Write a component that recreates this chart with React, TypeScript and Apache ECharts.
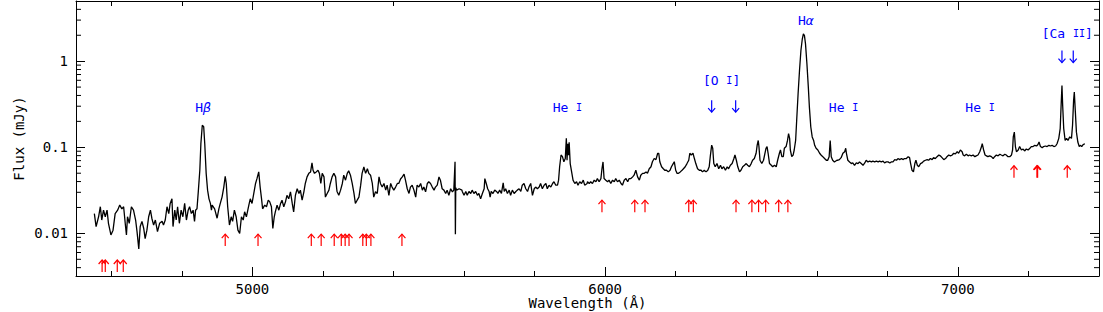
import { useEffect, useRef } from 'react';
import * as echarts from 'echarts';

// Spectrum: [wavelength (Å), flux (mJy)]
const spectrum: [number, number][] = [
  [4552,0.0170],[4557,0.0120],[4564,0.0156],[4569,0.0204],[4573,0.0143],[4578,0.0186],[4583,0.0156],[4588,0.0186],[4592,0.0131],[4599,0.0096],[4605,0.0109],[4611,0.0170],[4618,0.0186],[4624,0.0213],[4630,0.0193],[4635,0.0204],[4640,0.0125],[4643,0.0096],[4646,0.0156],[4651,0.0131],[4657,0.0204],[4663,0.0186],[4669,0.0143],[4673,0.0105],[4678,0.0066],[4682,0.0120],[4687,0.0138],[4692,0.0114],[4696,0.0087],[4701,0.0109],[4706,0.0156],[4711,0.0186],[4715,0.0150],[4720,0.0125],[4725,0.0143],[4731,0.0105],[4737,0.0131],[4744,0.0138],[4748,0.0125],[4753,0.0143],[4758,0.0204],[4763,0.0170],[4767,0.0223],[4772,0.0252],[4775,0.0120],[4780,0.0186],[4784,0.0143],[4788,0.0204],[4793,0.0131],[4798,0.0186],[4803,0.0156],[4808,0.0223],[4813,0.0143],[4818,0.0186],[4822,0.0204],[4827,0.0170],[4832,0.0186],[4836,0.0138],[4839,0.0186],[4843,0.0193],[4847,0.0318],[4851,0.0541],[4854,0.110],[4858,0.180],[4862,0.173],[4865,0.110],[4869,0.0498],[4873,0.0318],[4877,0.0252],[4881,0.0223],[4884,0.0186],
  [4886,0.0213],[4893,0.0193],[4900,0.0150],[4905,0.0193],[4909,0.0223],[4914,0.0264],[4919,0.0345],[4923,0.0461],[4926,0.0380],[4930,0.0204],[4935,0.0125],[4940,0.0156],[4944,0.0138],[4949,0.0186],[4954,0.0156],[4959,0.0109],[4964,0.0100],[4969,0.0156],[4974,0.0143],[4978,0.0178],[4983,0.0156],[4990,0.0213],[4994,0.0252],[4999,0.0223],[5004,0.0291],[5009,0.0380],[5013,0.0432],[5018,0.0518],[5022,0.0345],[5026,0.0252],[5029,0.0193],[5035,0.0213],[5040,0.0204],[5045,0.0243],[5049,0.0234],[5054,0.0204],[5058,0.0114],[5062,0.0156],[5065,0.0178],[5070,0.0213],[5075,0.0186],[5080,0.0223],[5084,0.0243],[5089,0.0204],[5094,0.0234],[5098,0.0277],[5103,0.0252],[5108,0.0304],[5113,0.0223],[5117,0.0178],[5122,0.0277],[5127,0.0330],[5132,0.0291],[5136,0.0318],[5141,0.0243],[5146,0.0304],[5150,0.0380],[5155,0.0453],[5160,0.0498],[5165,0.0518],[5169,0.0658],[5172,0.0541],[5176,0.0498],[5181,0.0518],[5186,0.0541],[5190,0.0498],[5194,0.0380],[5198,0.0498],[5203,0.0453],[5207,0.0264],[5212,0.0291],[5217,0.0318],[5221,0.0380],[5226,0.0453],[5231,0.0498],[5236,0.0453],[5239,0.0330],
  [5240,0.0307],[5245,0.0277],[5250,0.0318],[5255,0.0380],[5259,0.0474],[5264,0.0415],[5269,0.0498],[5273,0.0533],[5278,0.0474],[5283,0.0380],[5288,0.0291],[5292,0.0223],[5297,0.0243],[5302,0.0264],[5307,0.0363],[5311,0.0498],[5316,0.0590],[5321,0.0498],[5326,0.0564],[5330,0.0498],[5335,0.0474],[5340,0.0380],[5344,0.0264],[5349,0.0304],[5354,0.0291],[5359,0.0453],[5363,0.0380],[5368,0.0345],[5373,0.0380],[5378,0.0318],[5382,0.0363],[5387,0.0277],[5392,0.0380],[5396,0.0345],[5401,0.0318],[5406,0.0345],[5411,0.0380],[5415,0.0380],[5420,0.0428],[5425,0.0453],[5430,0.0488],[5434,0.0415],[5439,0.0330],[5444,0.0291],[5448,0.0345],[5453,0.0363],[5458,0.0318],[5463,0.0264],[5467,0.0363],[5472,0.0345],[5477,0.0380],[5482,0.0318],[5486,0.0345],[5491,0.0304],[5496,0.0380],[5500,0.0398],[5505,0.0380],[5510,0.0345],[5515,0.0318],[5519,0.0345],[5524,0.0363],[5529,0.0453],[5533,0.0415],[5538,0.0330],[5543,0.0318],[5548,0.0291],[5552,0.0318],[5557,0.0277],[5562,0.0330],[5567,0.0304],[5571,0.0318],[5574.5,0.068],[5575.5,0.0098],[5576.5,0.034],[5579,0.0318],[5586,0.0330],[5594,0.0318],
  [5595,0.0307],[5600,0.0277],[5605,0.0307],[5609,0.0277],[5614,0.0307],[5619,0.0291],[5623,0.0318],[5628,0.0291],[5633,0.0307],[5638,0.0277],[5642,0.0291],[5647,0.0252],[5652,0.0291],[5657,0.0330],[5659,0.0433],[5663,0.0380],[5667,0.0330],[5671,0.0307],[5674,0.0264],[5677,0.0307],[5682,0.0291],[5687,0.0318],[5692,0.0307],[5696,0.0291],[5701,0.0318],[5706,0.0291],[5711,0.0386],[5714,0.0307],[5718,0.0330],[5723,0.0291],[5728,0.0318],[5732,0.0277],[5737,0.0318],[5742,0.0291],[5747,0.0307],[5751,0.0318],[5756,0.0330],[5761,0.0307],[5765,0.0363],[5770,0.0380],[5775,0.0330],[5780,0.0307],[5784,0.0345],[5789,0.0380],[5794,0.0277],[5799,0.0330],[5803,0.0345],[5808,0.0330],[5813,0.0345],[5817,0.0380],[5822,0.0330],[5827,0.0363],[5832,0.0380],[5836,0.0330],[5841,0.0363],[5846,0.0345],[5851,0.0380],[5855,0.0398],[5860,0.0363],[5865,0.0363],[5868,0.0415],[5871,0.0594],[5875,0.0814],[5879,0.0778],[5883,0.0680],[5887,0.0740],[5890,0.127],[5892,0.0707],[5894,0.110],[5896,0.081],[5898,0.114],[5901,0.0647],[5905,0.0518],[5909,0.0415],[5914,0.0380],[5919,0.0398],[5923,0.0363],[5928,0.0398],[5933,0.0380],[5938,0.0415],[5942,0.0363],[5949,0.0380],
  [5950,0.0398],[5955,0.0380],[5959,0.0398],[5964,0.0380],[5969,0.0415],[5974,0.0398],[5978,0.0433],[5983,0.0398],[5988,0.0433],[5991,0.0563],[5994,0.0676],[5997,0.0433],[6002,0.0415],[6007,0.0398],[6011,0.0415],[6016,0.0380],[6021,0.0415],[6026,0.0398],[6030,0.0433],[6035,0.0398],[6040,0.0415],[6045,0.0380],[6049,0.0363],[6054,0.0415],[6059,0.0433],[6064,0.0398],[6068,0.0433],[6073,0.0433],[6078,0.0453],[6082,0.0474],[6087,0.0541],[6092,0.0453],[6097,0.0415],[6101,0.0474],[6106,0.0498],[6111,0.0498],[6116,0.0518],[6120,0.0498],[6125,0.0563],[6130,0.0594],[6134,0.0680],[6139,0.0740],[6144,0.0720],[6149,0.0852],[6152,0.0852],[6155,0.0680],[6160,0.0594],[6165,0.0563],[6169,0.0541],[6174,0.0541],[6179,0.0518],[6184,0.0541],[6188,0.0594],[6193,0.0647],[6196,0.0680],[6200,0.0541],[6204,0.0498],[6208,0.0498],[6213,0.0518],[6218,0.0541],[6222,0.0563],[6227,0.0594],[6232,0.0647],[6237,0.0707],[6240,0.0852],[6244,0.0814],[6249,0.0852],[6253,0.0740],[6257,0.0647],[6262,0.0563],[6267,0.0541],[6272,0.0541],[6276,0.0518],[6281,0.0541],[6286,0.0518],[6291,0.0541],[6295,0.0594],[6298,0.0778],[6302,0.106],
  [6305,0.0973],[6308,0.0647],[6312,0.0594],[6317,0.0647],[6322,0.0563],[6327,0.0618],[6331,0.0563],[6336,0.0594],[6341,0.0541],[6346,0.0594],[6350,0.0563],[6355,0.0618],[6360,0.0647],[6365,0.0740],[6368,0.0814],[6372,0.0707],[6376,0.0594],[6381,0.0518],[6385,0.0541],[6390,0.0594],[6395,0.0618],[6400,0.0647],[6404,0.0618],[6409,0.0594],[6414,0.0647],[6418,0.0707],[6423,0.0740],[6428,0.0852],[6431,0.106],[6434,0.120],[6436,0.102],[6439,0.0707],[6444,0.0647],[6449,0.0707],[6453,0.0852],[6456,0.0973],[6459,0.102],[6462,0.0852],[6466,0.0647],[6471,0.0618],[6475,0.0594],[6480,0.0618],[6485,0.0594],[6489,0.0707],[6494,0.0852],[6497,0.0930],[6501,0.0778],[6505,0.0778],[6508,0.0973],[6513,0.102],[6517,0.120],[6520,0.144],[6523,0.127],[6525,0.0930],[6529,0.0778],[6533,0.0814],[6536,0.0930],[6540,0.120],[6543,0.206],[6547,0.419],[6551,0.780],[6555,1.33],[6559,1.82],[6562,2.08],[6565,1.98],[6568,1.59],[6572,0.933],[6576,0.500],[6579,0.293],[6583,0.172],[6587,0.132],[6591,0.120],[6594,0.1054],[6598,0.0973],[6603,0.0930],[6608,0.0852],[6612,0.0814],[6617,0.0778],[6622,0.0740],[6627,0.0707],[6631,0.0707],[6635,0.0778],[6638,0.120],[6641,0.0778],[6645,0.0707],[6650,0.0676],[6657,0.0707],
  [6660,0.0707],[6664,0.0720],[6669,0.0758],[6674,0.0852],[6679,0.0889],[6682,0.0973],[6684,0.0852],[6688,0.0707],[6693,0.0676],[6698,0.0647],[6702,0.0658],[6707,0.0618],[6712,0.0658],[6717,0.0647],[6721,0.0676],[6726,0.0647],[6731,0.0618],[6736,0.0658],[6740,0.0707],[6745,0.0676],[6750,0.0690],[6755,0.0676],[6759,0.0690],[6764,0.0676],[6769,0.0690],[6774,0.0676],[6778,0.0690],[6783,0.0676],[6788,0.0690],[6792,0.0658],[6797,0.0676],[6802,0.0676],[6807,0.0658],[6811,0.0676],[6816,0.0676],[6821,0.0720],[6826,0.0707],[6830,0.0740],[6835,0.0720],[6840,0.0740],[6844,0.0720],[6849,0.0740],[6854,0.0740],[6859,0.0778],[6863,0.0758],[6866,0.0647],[6870,0.0541],[6874,0.0518],[6878,0.0647],[6881,0.0707],[6885,0.0618],[6889,0.0594],[6894,0.0647],[6898,0.0658],[6903,0.0690],[6908,0.0707],[6913,0.0720],[6917,0.0707],[6922,0.0740],[6927,0.0720],[6931,0.0758],[6936,0.0740],[6941,0.0778],[6946,0.0814],[6950,0.0796],[6955,0.0758],[6960,0.0720],[6965,0.0740],[6969,0.0778],[6974,0.0814],[6979,0.0796],[6984,0.0814],[6988,0.0852],[6993,0.0837],[6998,0.0889],[7002,0.0852],[7007,0.0930],[7012,0.0889],
  [7015,0.0814],[7019,0.0796],[7024,0.0830],[7029,0.0796],[7033,0.0814],[7038,0.0796],[7043,0.0814],[7048,0.0778],[7052,0.0796],[7057,0.0814],[7062,0.0889],[7067,0.102],[7069,0.110],[7073,0.0930],[7077,0.0814],[7081,0.0796],[7085,0.0778],[7090,0.0796],[7095,0.0778],[7100,0.0740],[7104,0.0778],[7109,0.0814],[7114,0.0796],[7119,0.0830],[7123,0.0814],[7128,0.0796],[7133,0.0830],[7137,0.0814],[7142,0.0778],[7147,0.0778],[7152,0.0814],[7155,0.0930],[7157,0.132],[7160,0.150],[7163,0.102],[7166,0.0889],[7171,0.0930],[7175,0.102],[7180,0.0930],[7185,0.0955],[7189,0.0906],[7194,0.0955],[7199,0.0930],[7204,0.0973],[7208,0.102],[7213,0.102],[7218,0.1054],[7223,0.1035],[7227,0.1075],[7230,0.115],[7234,0.102],[7239,0.0990],[7243,0.102],[7248,0.1035],[7253,0.102],[7258,0.1054],[7262,0.1035],[7267,0.1054],[7272,0.102],[7277,0.1035],[7281,0.110],[7286,0.127],[7290,0.165],[7293,0.335],[7295,0.523],[7297,0.307],[7300,0.165],[7304,0.120],[7308,0.127],[7312,0.120],[7317,0.132],[7322,0.127],[7325,0.180],[7328,0.351],[7330,0.438],[7333,0.256],[7336,0.150],[7340,0.115],[7344,0.102],[7347,0.1054],[7351,0.102],[7355,0.1075],[7360,0.110],
];

// Red upward arrows (line identifications): [wavelength, flux at arrow centre]
const redArrows: [number, number][] = [
  [4574,0.00418],[4583,0.00418],[4617,0.00418],[4634,0.00418],
  [4923,0.00836],[5016,0.00836],[5167,0.00836],[5195,0.00836],[5232,0.00836],[5252,0.00836],[5263,0.00836],[5274,0.00836],[5313,0.00836],[5323,0.00836],[5336,0.00836],[5424,0.00836],
  [5991,0.0207],[6084,0.0207],[6113,0.0207],[6237,0.0207],[6250,0.0207],[6371,0.0207],[6416,0.0207],[6435,0.0207],[6455,0.0207],[6492,0.0207],[6518,0.0207],
  [7159,0.052],[7224,0.052],[7226,0.052],[7310,0.052],
];

// Blue downward arrows for forbidden lines
const blueArrows: [number, number][] = [
  [6302,0.30],[6370,0.30],[7295,1.13],[7327,1.13],
];

// Blue line labels
const labelTexts = ['{n|H}{g|β}', '{n|He }{s|I}', '{n|[O }{s|I}{n|]}', '{n|H}{g|α}', '{n|He }{s|I}', '{n|He }{s|I}', '{n|[Ca }{s|II}{n|]}'];
const labelWave = [4860, 5893, 6330, 6569, 6676, 7063, 7310];
const labelFlux = [0.29, 0.29, 0.60, 2.96, 0.29, 0.29, 2.09];

const xMin = 4500, xMax = 7400;
const yMin = 0.0032, yMax = 5;
const yMinorTicks = [0.004,0.005,0.006,0.007,0.008,0.009,0.02,0.03,0.04,0.05,0.06,0.07,0.08,0.09,0.2,0.3,0.4,0.5,0.6,0.7,0.8,0.9,2,3,4];

const FONT = 'DejaVu Sans Mono';
const BLUE = '#0000ff';

export default function App() {
  const ref = useRef<HTMLDivElement>(null);
  useEffect(() => {
    if (!ref.current) return;
    const chart = echarts.init(ref.current, undefined, { renderer: 'svg' });
    const xLab = (v: number) => (Math.abs(v % 1000) < 1e-6 ? String(v) : '');
    const yLab = (v: number) => {
      const l = Math.log10(v);
      if (Math.abs(l - Math.round(l)) > 1e-6) return '';
      const r = Math.round(l);
      return r >= 0 ? String(Math.pow(10, r)) : (Math.pow(10, r)).toFixed(-r);
    };
    const axisBase = {
      axisLine: { show: true, onZero: false, lineStyle: { color: '#000', width: 1 } },
      splitLine: { show: false },
    };
    const xAxisCommon = {
      ...axisBase,
      type: 'value' as const,
      min: xMin, max: xMax, splitNumber: 3,
      axisTick: { show: true, inside: true, length: 9, lineStyle: { color: '#000', width: 1 } },
      minorTick: { show: true, splitNumber: 5, length: 5, lineStyle: { color: '#000', width: 1 } },
    };
    const yAxisCommon = {
      ...axisBase,
      type: 'log' as const, logBase: 10,
      min: yMin, max: yMax,
      axisTick: { show: true, inside: true, length: 9, lineStyle: { color: '#000', width: 1 } },
    };
    const arrowRender = (color: string, dir: number) => (params: any, api: any) => {
      const p = api.coord([api.value(0), api.value(1)]);
      const x = p[0], y = p[1];
      const tip = y - 6 * dir;
      return {
        type: 'group',
        children: [
          { type: 'line', shape: { x1: x, y1: y + 6 * dir, x2: x, y2: tip }, style: { stroke: color, lineWidth: 1.2 } },
          { type: 'polyline', shape: { points: [[x - 3.5, tip + 4 * dir], [x, tip], [x + 3.5, tip + 4 * dir]] }, style: { stroke: color, lineWidth: 1.2, fill: 'none' } },
        ],
      };
    };
    chart.setOption({
      animation: false,
      backgroundColor: '#fff',
      grid: { left: 76, right: 4, top: 1, bottom: 36, containLabel: false, outerBoundsMode: 'none' },
      xAxis: [
        {
          ...xAxisCommon, position: 'bottom',
          axisLabel: { formatter: xLab, color: '#000', fontFamily: FONT, fontSize: 14, lineHeight: 13, margin: 6 },
          name: 'Wavelength (Å)', nameLocation: 'middle', nameGap: 20, nameMoveOverlap: false,
          nameTextStyle: { color: '#000', fontFamily: FONT, fontSize: 14, lineHeight: 13 },
        },
        { ...xAxisCommon, position: 'top', axisLabel: { show: false } },
      ],
      yAxis: [
        {
          ...yAxisCommon, position: 'left',
          axisLabel: { formatter: yLab, color: '#000', fontFamily: FONT, fontSize: 14, margin: 8 },
          name: 'Flux (mJy)', nameLocation: 'middle', nameGap: 50, nameRotate: 90, nameMoveOverlap: false,
          nameTextStyle: { color: '#000', fontFamily: FONT, fontSize: 14 },
        },
        { ...yAxisCommon, position: 'right', axisLabel: { show: false } },
      ],
      series: [
        {
          type: 'custom', xAxisIndex: 0, yAxisIndex: 0, silent: true,
          data: yMinorTicks.map((v) => [xMin, v]),
          renderItem: (params: any, api: any) => {
            const y = api.coord([xMin, api.value(1)])[1];
            const cs = params.coordSys;
            return {
              type: 'group',
              children: [
                { type: 'line', shape: { x1: cs.x, y1: y, x2: cs.x + 5, y2: y }, style: { stroke: '#000', lineWidth: 1 } },
                { type: 'line', shape: { x1: cs.x + cs.width - 5, y1: y, x2: cs.x + cs.width, y2: y }, style: { stroke: '#000', lineWidth: 1 } },
              ],
            };
          },
        },
        {
          type: 'line', data: spectrum, showSymbol: false, symbol: 'none', silent: true,
          lineStyle: { color: '#000', width: 1.3 },
        },
        {
          type: 'custom', silent: true, data: redArrows,
          renderItem: arrowRender('#ff0000', 1),
        },
        {
          type: 'custom', silent: true, data: blueArrows,
          renderItem: arrowRender(BLUE, -1),
        },
        {
          type: 'custom', silent: true,
          data: labelWave.map((w, i) => [w, labelFlux[i], i]),
          renderItem: (params: any, api: any) => {
            const p = api.coord([api.value(0), api.value(1)]);
            const idx = api.value(2);
            return {
              type: 'text', x: p[0], y: p[1],
              style: {
                text: labelTexts[idx], fill: BLUE, align: 'center', verticalAlign: 'middle',
                fontFamily: FONT, fontSize: 13,
                rich: {
                  n: { fill: BLUE, fontFamily: FONT, fontSize: 13 },
                  s: { fill: BLUE, fontFamily: FONT, fontSize: 10 },
                  g: { fill: BLUE, fontFamily: FONT, fontSize: 13, fontStyle: 'italic' },
                },
              },
            };
          },
        },
      ],
    });
    return () => chart.dispose();
  }, []);
  return <div ref={ref} style={{ position: 'fixed', left: 0, top: 0, width: 1103, height: 312, background: '#fff' }} />;
}
